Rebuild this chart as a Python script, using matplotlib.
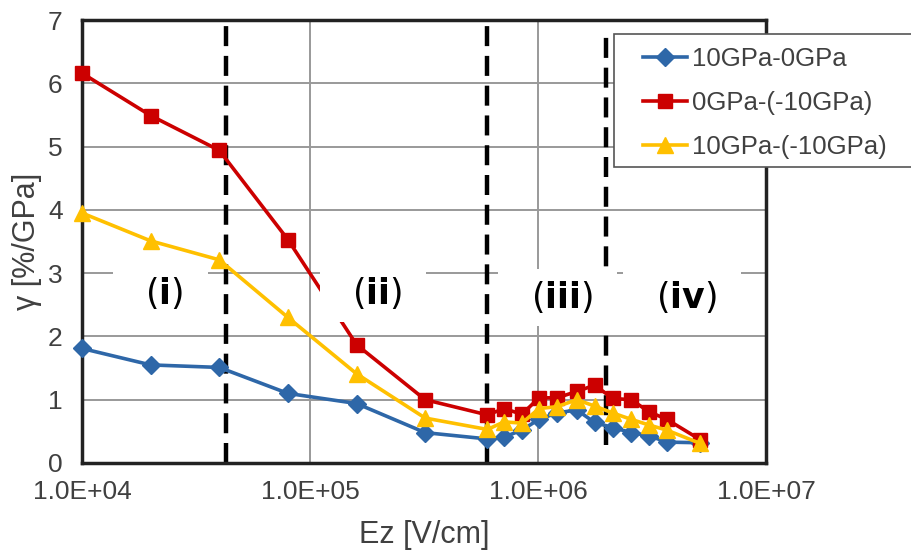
import matplotlib
matplotlib.use('Agg')
import matplotlib.pyplot as plt
from matplotlib.patches import Rectangle
from matplotlib.ticker import FuncFormatter, NullLocator

# field strength Ez [V/cm]
ez = [1.0e4, 2.0e4, 4.0e4, 8.0e4, 1.6e5, 3.2e5, 6.0e5, 7.1e5, 8.5e5,
      1.01e6, 1.21e6, 1.48e6, 1.77e6, 2.13e6, 2.56e6, 3.07e6, 3.67e6, 5.14e6]

# gamma [%/GPa] for each pressure pair
g_10_0 = [1.81, 1.55, 1.51, 1.10, 0.94, 0.48, 0.38, 0.41, 0.52,
          0.69, 0.79, 0.84, 0.64, 0.56, 0.48, 0.43, 0.33, 0.32]
g_0_m10 = [6.16, 5.49, 4.94, 3.53, 1.87, 1.00, 0.76, 0.86, 0.77,
           1.03, 1.03, 1.13, 1.23, 1.02, 1.00, 0.81, 0.69, 0.37]
g_10_m10 = [3.95, 3.51, 3.21, 2.30, 1.41, 0.71, 0.53, 0.65, 0.63,
            0.86, 0.89, 1.00, 0.90, 0.79, 0.69, 0.60, 0.52, 0.31]

series_names = ['10GPa-0GPa', '0GPa-(-10GPa)', '10GPa-(-10GPa)']

# region boundaries and labels
bounds = [4.28e4, 5.97e5, 1.99e6]
region_labels = ['i', 'ii', 'iii', 'iv']
region_x = [2.2e4, 1.89e5, 1.22e6, 4.28e6]
region_y = [2.68, 2.68, 2.62, 2.62]

W, H = 912, 554
fig = plt.figure(figsize=(W / 100, H / 100), dpi=100)
ax = fig.add_axes([82 / W, 91 / H, 684 / W, 443 / H])

ax.set_xscale('log')
ax.set_xlim(1e4, 1e7)
ax.set_ylim(0, 7)
ax.xaxis.set_minor_locator(NullLocator())
ax.xaxis.set_major_formatter(FuncFormatter(lambda v, p: '%.1E' % v))
ax.set_yticks(range(8))

ax.grid(True, color='#999999', lw=1.4, zorder=0)
for s in ax.spines.values():
    s.set_linewidth(2.5)
    s.set_color('#222222')
ax.tick_params(length=0, labelsize=19, colors='#404040')
ax.tick_params(axis='x', pad=12)
ax.tick_params(axis='y', pad=14)
for lab in ax.get_xticklabels() + ax.get_yticklabels():
    lab.set_fontfamily('Liberation Sans')

styles = [('#2E67A8', 'D', 9), ('#CC0000', 's', 10), ('#FFC000', '^', 11)]
for ys, name, (c, m, ms) in zip([g_10_0, g_0_m10, g_10_m10], series_names, styles):
    ax.plot(ez, ys, color=c, marker=m, markersize=ms, lw=2.6, label=name,
            clip_on=False, zorder=3)

# dashed boundaries between regions
ax.plot([bounds[0]] * 2, [0, 7], color='black', lw=3.2, dashes=(4.5, 2.2), zorder=2)
ax.plot([bounds[1]] * 2, [0, 7], color='black', lw=3.2, dashes=(4.5, 2.2), zorder=2)
ax.plot([bounds[2]] * 2, [0.28, 6.76], color='black', lw=3.2, dashes=(4.5, 2.2), zorder=2)

for lx, ly, txt in zip(region_x, region_y, region_labels):
    ax.text(lx, ly, r'  ($\mathbf{%s}$)  ' % txt, fontsize=25, ha='center', va='center',
            family='DejaVu Sans', color='black', zorder=4,
            bbox=dict(boxstyle='square,pad=0.3', fc='white', ec='none'))

ax.set_xlabel('Ez [V/cm]', fontsize=22, family='Liberation Sans', color='#404040',
              labelpad=12)
ax.set_ylabel('γ [%/GPa]', fontsize=22, family='Liberation Sans', color='#404040',
              labelpad=4)

# legend frame drawn separately so it can run off the right edge
frame = Rectangle((614 / W, 1 - 167 / H), 300 / W, 133 / H, transform=fig.transFigure,
                  fc='white', ec='#555555', lw=1.2, zorder=4)
fig.patches.append(frame)

leg = fig.legend(loc='upper left', bbox_to_anchor=(643 / W, 1 - 47 / H),
                 borderaxespad=0, borderpad=0, frameon=False,
                 handlelength=1.7, handletextpad=0.2, labelspacing=0.78,
                 prop={'family': 'Liberation Sans', 'size': 18.5})
leg.set_zorder(5)
for t in leg.get_texts():
    t.set_color('#404040')

fig.savefig('out.png', dpi=100)
